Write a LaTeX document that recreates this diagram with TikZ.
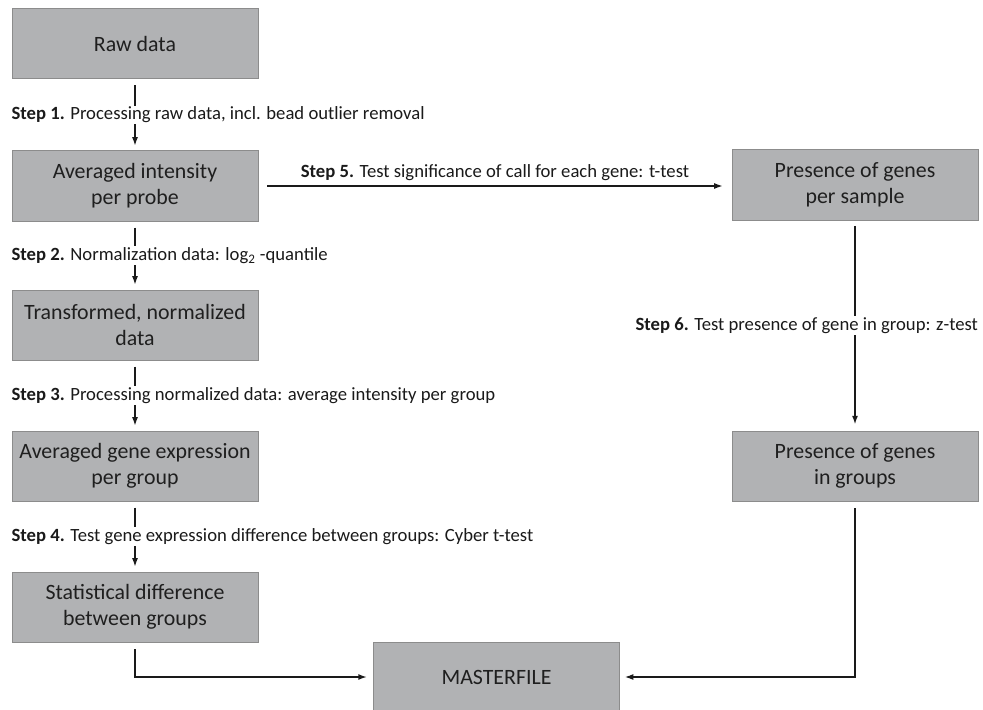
\documentclass[tikz,border=0pt]{standalone}
\usepackage{fontspec}
\setmainfont{Carlito}
\usetikzlibrary{arrows.meta}
\definecolor{boxfill}{HTML}{B1B2B4}
\definecolor{boxline}{HTML}{8C8C8C}
\definecolor{boxtext}{HTML}{1F1F1F}
\definecolor{ink}{HTML}{1A1A1A}
\begin{document}
\begin{tikzpicture}[x=0.75pt,y=-0.75pt,
  stagebox/.style={draw=boxline, line width=0.75pt, fill=boxfill, text=boxtext,
    minimum width=184.5pt, minimum height=52.5pt, inner sep=0pt, align=center,
    font=\fontsize{16.4}{19.6}\selectfont},
  flow/.style={draw=ink, line width=1.2pt, -{Latex[length=6.5pt,width=4.5pt]}},
  steplabel/.style={fill=white, inner sep=1pt, text=ink,
    font=\fontsize{14}{16}\selectfont}
]
\clip (0,0) rectangle (983,710);

% left column of processing stages
\node[stagebox] (raw)   at (135,44)  {Raw data};
\node[stagebox] (avg)   at (135,186) {Averaged intensity\\per probe};
\node[stagebox] (norm)  at (135,325) {Transformed, normalized\\data};
\node[stagebox] (grp)   at (135,466) {Averaged gene expression\\per group};
\node[stagebox] (stat)  at (135,607) {Statistical difference\\between groups};

% right column: presence calls
\node[stagebox] (pres)  at (855,185) {Presence of genes\\per sample};
\node[stagebox] (pgrp)  at (855,466) {Presence of genes\\in groups};

% final output
\node[stagebox] (master) at (496.5,677) {MASTERFILE};

% connectors
\draw[flow, shorten <=4.5pt, shorten >=3.5pt] (raw)  -- (avg);
\draw[flow, shorten <=4.5pt, shorten >=3.5pt] (avg)  -- (norm);
\draw[flow, shorten <=4.5pt, shorten >=3.5pt] (norm) -- (grp);
\draw[flow, shorten <=4.5pt, shorten >=3.5pt] (grp)  -- (stat);
\draw[flow, shorten <=6.5pt, shorten >=6.5pt] (avg.east) -- (avg.east -| pres.west);
\draw[flow, shorten <=4pt, shorten >=4.5pt] (pres) -- (pgrp);
\draw[flow] ([yshift=-5pt]stat.south) |- ([xshift=-4.5pt]master.west);
\draw[flow] ([yshift=-5pt]pgrp.south) |- ([xshift=3.5pt]master.east);

% step labels
\node[steplabel, anchor=west] (s1) at (10,115)
  {\textbf{Step 1.} Processing raw data, incl. bead outlier removal};
\node[steplabel, anchor=west] (s2) at (10,255.5)
  {\textbf{Step 2.} Normalization data: log\textsubscript{2} -quantile};
\node[steplabel, anchor=west] (s3) at (10,395.5)
  {\textbf{Step 3.} Processing normalized data: average intensity per group};
\node[steplabel, anchor=west] (s4) at (10,536.5)
  {\textbf{Step 4.} Test gene expression difference between groups: Cyber t-test};
\node[steplabel, anchor=south] (s5) at (495,182)
  {\textbf{Step 5.} Test significance of call for each gene: t-test};
\node[steplabel, anchor=west] (s6) at (634,325.5)
  {\textbf{Step 6.} Test presence of gene in group: z-test};
\end{tikzpicture}
\end{document}
